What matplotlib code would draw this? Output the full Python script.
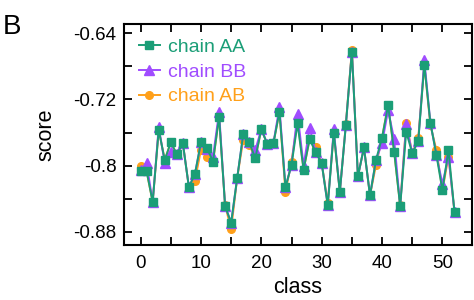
import matplotlib
matplotlib.use("Agg")
import matplotlib.pyplot as plt
from matplotlib.ticker import MultipleLocator

plt.rcParams['font.family'] = ['Liberation Sans', 'DejaVu Sans']
plt.rcParams['axes.unicode_minus'] = False

classes = list(range(53))

chain_aa = [-0.807, -0.807, -0.844, -0.757, -0.793, -0.772, -0.786, -0.773, -0.826, -0.810,
            -0.772, -0.779, -0.795, -0.741, -0.849, -0.869, -0.815, -0.762, -0.772, -0.791,
            -0.756, -0.774, -0.773, -0.735, -0.826, -0.799, -0.749, -0.805, -0.768, -0.784,
            -0.797, -0.848, -0.760, -0.832, -0.751, -0.662, -0.813, -0.778, -0.836, -0.793,
            -0.766, -0.727, -0.783, -0.849, -0.759, -0.785, -0.770, -0.678, -0.748, -0.787,
            -0.830, -0.781, -0.856]

chain_bb = [-0.805, -0.797, -0.844, -0.753, -0.797, -0.783, -0.786, -0.773, -0.826, -0.810,
            -0.772, -0.780, -0.789, -0.735, -0.849, -0.869, -0.815, -0.762, -0.772, -0.781,
            -0.756, -0.774, -0.773, -0.729, -0.826, -0.799, -0.737, -0.800, -0.754, -0.784,
            -0.797, -0.848, -0.756, -0.832, -0.751, -0.662, -0.813, -0.778, -0.836, -0.793,
            -0.773, -0.733, -0.768, -0.849, -0.750, -0.785, -0.770, -0.672, -0.748, -0.787,
            -0.822, -0.789, -0.856]

chain_ab = [-0.801, -0.807, -0.844, -0.757, -0.793, -0.772, -0.786, -0.773, -0.826, -0.818,
            -0.781, -0.789, -0.795, -0.741, -0.848, -0.877, -0.815, -0.769, -0.775, -0.791,
            -0.756, -0.774, -0.773, -0.735, -0.832, -0.795, -0.745, -0.805, -0.768, -0.777,
            -0.797, -0.845, -0.760, -0.832, -0.750, -0.660, -0.813, -0.778, -0.836, -0.799,
            -0.766, -0.727, -0.783, -0.848, -0.748, -0.785, -0.766, -0.678, -0.751, -0.781,
            -0.830, -0.789, -0.856]

green = '#1b9e77'
purple = '#a04cff'
orange = '#ffa01a'

fig = plt.figure(figsize=(4.74, 3.0), dpi=100)
ax = fig.add_axes([0.2616, 0.1833, 0.7342, 0.7367])

# draw order: AB under BB under AA
l_ab, = ax.plot(classes, chain_ab, '-o', color=orange, lw=1.4, ms=5.5, label='chain AB')
l_bb, = ax.plot(classes, chain_bb, '-^', color=purple, lw=1.4, ms=6.5, label='chain BB')
l_aa, = ax.plot(classes, chain_aa, '-s', color=green, lw=1.4, ms=6.0, label='chain AA')

ax.set_xlim(-2.75, 54.9)
ax.set_ylim(-0.896, -0.6287)
ax.xaxis.set_major_locator(MultipleLocator(10))
ax.xaxis.set_minor_locator(MultipleLocator(5))
ax.set_yticks([-0.88, -0.8, -0.72, -0.64])
ax.set_yticklabels(['-0.88', '-0.8', '-0.72', '-0.64'])
ax.set_yticks([-0.84, -0.76, -0.68], minor=True)

ax.tick_params(which='both', direction='in', top=True, right=True, width=1.3, length=5.5)
ax.tick_params(axis='x', which='major', labelsize=13.5, pad=7)
ax.tick_params(axis='y', which='major', labelsize=13.5, pad=5.5)
for s in ax.spines.values():
    s.set_linewidth(1.5)

ax.set_xlabel('class', fontsize=15.5, labelpad=4)
ax.set_ylabel('score', fontsize=15.5, labelpad=12)

leg = ax.legend(handles=[l_aa, l_bb, l_ab], loc='upper left', frameon=False, fontsize=14,
                handlelength=1.1, handletextpad=0.4, labelspacing=0.36,
                borderaxespad=0.35, bbox_to_anchor=(0.0, 1.0))
for t, c in zip(leg.get_texts(), [green, purple, orange]):
    t.set_color(c)

fig.text(0.005, 0.955, 'B', fontsize=20, va='top', ha='left')

fig.savefig('out.png', dpi=100)
